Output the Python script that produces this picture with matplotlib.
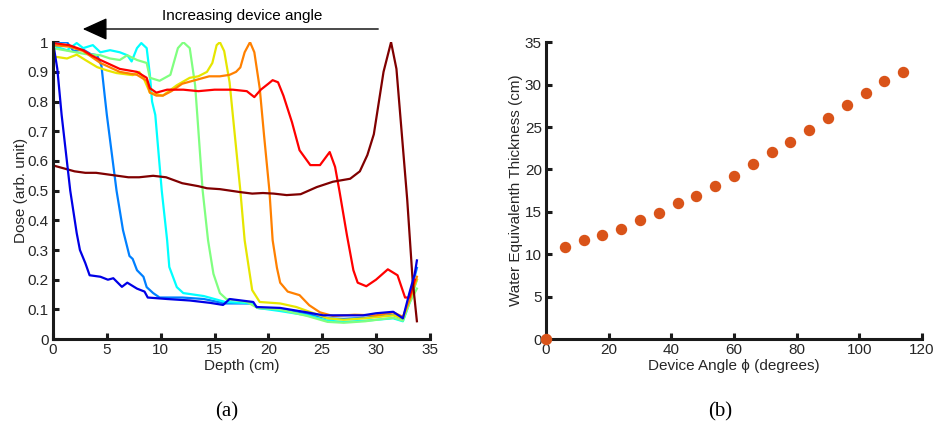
import numpy as np
import matplotlib
matplotlib.use("Agg")
import matplotlib.pyplot as plt

plt.rcParams['font.family'] = ['Liberation Sans', 'DejaVu Sans']

# ---------------- panel (a): depth dose curves ----------------
# maroon -> smallest device angle, blue -> largest
maroon_x = [0, 1, 2, 3, 4, 5, 6, 7, 8, 9.3, 10.5, 12, 13.5, 14.3, 15.5, 17.4, 18.5, 19.5,
            20.5, 21.7, 23, 24.5, 26.0, 27.6, 28.5, 29.2, 29.8, 30.7, 31.4, 31.9, 32.4,
            32.9, 33.4, 33.8]
maroon_y = [0.585, 0.575, 0.565, 0.56, 0.56, 0.555, 0.55, 0.545, 0.545, 0.55, 0.545, 0.525,
            0.515, 0.508, 0.505, 0.495, 0.49, 0.492, 0.49, 0.485, 0.488, 0.512, 0.53, 0.54,
            0.565, 0.62, 0.69, 0.9, 1.0, 0.91, 0.69, 0.47, 0.2, 0.06]

red_x = [0, 1.5, 2.8, 3.6, 4.4, 5.3, 6.2, 7.0, 7.8, 8.7, 9.0, 9.6, 10.6, 12.1, 13.5, 15,
         16.7, 18.0, 18.7, 19.3, 20.0, 20.4, 20.9, 21.4, 22.2, 22.9, 23.9, 24.8, 25.7,
         26.2, 26.6, 27.3, 27.9, 28.3, 29.1, 30.0, 31.1, 32.0, 32.7, 33.1, 33.6]
red_y = [0.997, 0.99, 0.973, 0.955, 0.94, 0.925, 0.91, 0.905, 0.9, 0.88, 0.845, 0.83, 0.84,
         0.84, 0.835, 0.84, 0.84, 0.835, 0.815, 0.84, 0.86, 0.872, 0.865, 0.82, 0.73, 0.636,
         0.586, 0.586, 0.63, 0.58, 0.5, 0.35, 0.232, 0.19, 0.178, 0.2, 0.235, 0.215, 0.14,
         0.14, 0.2]

orange_x = [0, 1.5, 2.8, 3.6, 4.4, 5.3, 6.2, 7.0, 7.8, 8.7, 9.0, 9.6, 10.2, 11, 12, 13.5,
            14.5, 15.5, 16.4, 17.0, 17.4, 17.8, 18.3, 18.7, 19.2, 19.6, 20.1, 20.4, 20.8,
            21.1, 21.8, 22.9, 23.8, 24.8, 26, 28, 30, 31.6, 32.5, 33.1, 33.8]
orange_y = [0.99, 0.985, 0.97, 0.95, 0.93, 0.915, 0.9, 0.895, 0.89, 0.87, 0.83, 0.82, 0.82,
            0.835, 0.86, 0.875, 0.885, 0.885, 0.89, 0.9, 0.915, 0.966, 1.0, 0.966, 0.845,
            0.687, 0.5, 0.333, 0.24, 0.19, 0.16, 0.148, 0.114, 0.09, 0.078, 0.082, 0.08,
            0.09, 0.075, 0.13, 0.21]

yellow_x = [0, 0.4, 1.3, 2.2, 3.0, 4.1, 5.0, 5.9, 7.4, 8.0, 8.4, 9.0, 10.2, 11.5, 12.7,
            13.5, 14.3, 14.8, 15.2, 15.5, 15.9, 16.4, 16.7, 17.4, 17.8, 18.5, 19.2, 21.1,
            22.6, 23.6, 25.5, 27, 29, 31.6, 32.5, 33.1, 33.8]
yellow_y = [0.95, 0.95, 0.945, 0.958, 0.94, 0.916, 0.905, 0.896, 0.889, 0.9, 0.88, 0.83,
            0.82, 0.855, 0.88, 0.885, 0.9, 0.93, 0.99, 1.0, 0.97, 0.865, 0.755, 0.5, 0.333,
            0.165, 0.125, 0.12, 0.108, 0.095, 0.07, 0.065, 0.07, 0.08, 0.07, 0.13, 0.2]

green_x = [0, 1.5, 3.0, 4.4, 5.3, 6.2, 6.9, 7.8, 8.7, 9.0, 9.9, 10.9, 11.6, 12.1, 12.7,
           13.2, 13.4, 13.9, 14.4, 14.9, 15.5, 16.1, 18, 19, 21, 23.6, 25.5, 27, 29, 31.6,
           32.5, 33.1, 33.8]
green_y = [0.98, 0.97, 0.96, 0.956, 0.945, 0.94, 0.956, 0.94, 0.93, 0.88, 0.87, 0.89, 0.98,
           1.0, 0.98, 0.855, 0.755, 0.5, 0.333, 0.22, 0.155, 0.135, 0.125, 0.105, 0.1, 0.078,
           0.058, 0.055, 0.06, 0.072, 0.062, 0.12, 0.17]

cyan_x = [0, 0.4, 1.3, 2.2, 2.8, 3.7, 4.4, 5.3, 6.2, 6.9, 7.3, 7.8, 8.2, 8.7, 9.0, 9.2,
          9.5, 10.1, 10.6, 10.8, 11.5, 12.1, 14, 16, 18.6, 19, 21, 23.6, 25.5, 27, 29, 31.6,
          32.5, 33.1, 33.8]
cyan_y = [0.99, 0.983, 0.973, 0.997, 0.98, 0.99, 0.966, 0.973, 0.966, 0.956, 0.935, 0.98,
          0.997, 0.98, 0.89, 0.8, 0.755, 0.5, 0.333, 0.243, 0.175, 0.155, 0.145, 0.125, 0.12,
          0.105, 0.095, 0.08, 0.062, 0.058, 0.062, 0.07, 0.06, 0.12, 0.2]

dodger_x = [0, 1.3, 1.9, 2.8, 3.5, 4.1, 4.5, 4.8, 5.0, 5.9, 6.5, 7.1, 7.4, 7.8, 8.4, 8.7,
            9.3, 9.9, 12, 14, 16, 18.6, 19, 21, 23.6, 25.5, 27, 29, 31.6, 32.5, 33.1, 33.8]
dodger_y = [1.0, 1.0, 0.97, 0.975, 0.96, 0.956, 0.92, 0.82, 0.755, 0.5, 0.367, 0.28, 0.27,
            0.232, 0.21, 0.175, 0.155, 0.14, 0.14, 0.135, 0.12, 0.12, 0.105, 0.1, 0.085, 0.07,
            0.068, 0.072, 0.082, 0.068, 0.14, 0.24]

blue_x = [0, 0.4, 0.8, 1.6, 2.2, 2.5, 3.0, 3.4, 4.4, 5.1, 5.6, 6.4, 6.9, 7.8, 8.5, 8.8,
          10.6, 12.7, 14.6, 15.8, 16.4, 18.6, 18.9, 21.1, 23.6, 25.1, 28.8, 30.0, 31.6,
          32.5, 33.1, 33.6, 33.8]
blue_y = [1.0, 0.91, 0.755, 0.5, 0.357, 0.3, 0.256, 0.215, 0.21, 0.2, 0.205, 0.176, 0.19,
          0.17, 0.16, 0.14, 0.135, 0.13, 0.122, 0.115, 0.135, 0.125, 0.108, 0.105, 0.09,
          0.08, 0.08, 0.087, 0.092, 0.07, 0.155, 0.22, 0.265]

curves = [
    (dodger_x, dodger_y, (0.0, 0.5, 1.0)),
    (cyan_x, cyan_y, (0.0, 1.0, 1.0)),
    (green_x, green_y, (0.5, 1.0, 0.5)),
    (yellow_x, yellow_y, (0.9, 0.9, 0.0)),
    (orange_x, orange_y, (1.0, 0.5, 0.0)),
    (red_x, red_y, (1.0, 0.0, 0.0)),
    (maroon_x, maroon_y, (0.5, 0.0, 0.0)),
    (blue_x, blue_y, (0.0, 0.0, 0.9)),
]

# ---------------- panel (b): water equivalent thickness ----------------
angle = [0, 6, 12, 18, 24, 30, 36, 42, 48, 54, 60, 66, 72, 78, 84, 90, 96, 102, 108, 114]
wet = [0, 10.85, 11.64, 12.23, 13.02, 14.04, 14.86, 16.04, 16.83, 18.05, 19.23, 20.64,
       22.06, 23.24, 24.66, 26.03, 27.6, 29.06, 30.44, 31.46]

ink = '#262626'


def style_axes(ax):
    for s in ['top', 'right']:
        ax.spines[s].set_visible(False)
    for s in ['left', 'bottom']:
        ax.spines[s].set_linewidth(2.2)
        ax.spines[s].set_color('#1a1a1a')
    ax.tick_params(direction='in', length=4, width=2.2, color='#1a1a1a',
                   labelsize=11, labelcolor=ink, pad=3)


fig = plt.figure(figsize=(9.35, 4.26), dpi=100)

ax1 = fig.add_axes([0.0567, 0.204, 0.403, 0.697])
for xs, ys, c in curves:
    ax1.plot(xs, ys, color=c, lw=1.6)
ax1.set_xlim(0, 35)
ax1.set_ylim(0, 1)
ax1.set_xticks(range(0, 36, 5))
ax1.set_yticks(np.arange(0, 1.01, 0.1))
ax1.set_yticklabels(['0', '0.1', '0.2', '0.3', '0.4', '0.5', '0.6', '0.7', '0.8', '0.9', '1'])
ax1.set_xlabel('Depth (cm)', fontsize=11, color=ink, labelpad=1)
ax1.set_ylabel('Dose (arb. unit)', fontsize=11, color=ink, labelpad=0)
style_axes(ax1)

# arrow + text above panel (a)
fig.text(242 / 935, 1 - 16 / 426, 'Increasing device angle', ha='center', va='center',
         fontsize=11, color='black')
fig.add_artist(matplotlib.patches.FancyArrowPatch(
    (381 / 935, 1 - 29 / 426), (80 / 935, 1 - 29 / 426), transform=fig.transFigure,
    arrowstyle='-|>,head_length=1.1,head_width=0.5', mutation_scale=14,
    color='black', lw=1.0))

ax2 = fig.add_axes([0.584, 0.204, 0.402, 0.697])
ax2.plot(angle, wet, 'o', color=(0.85, 0.325, 0.098), ms=7.2, clip_on=False, zorder=5)
ax2.set_xlim(0, 120)
ax2.set_ylim(0, 35)
ax2.set_xticks(range(0, 121, 20))
ax2.set_yticks(range(0, 36, 5))
ax2.set_xlabel('Device Angle \u03d5 (degrees)', fontsize=11, color=ink, labelpad=1)
ax2.set_ylabel('Water Equivalenth Thickness (cm)', fontsize=11, color=ink, labelpad=1)
style_axes(ax2)

fig.text(227 / 935, 1 - 412 / 426, '(a)', ha='center', va='center',
         family='Liberation Serif', fontsize=15)
fig.text(720 / 935, 1 - 412 / 426, '(b)', ha='center', va='center',
         family='Liberation Serif', fontsize=15)

fig.savefig('out.png', dpi=100)
